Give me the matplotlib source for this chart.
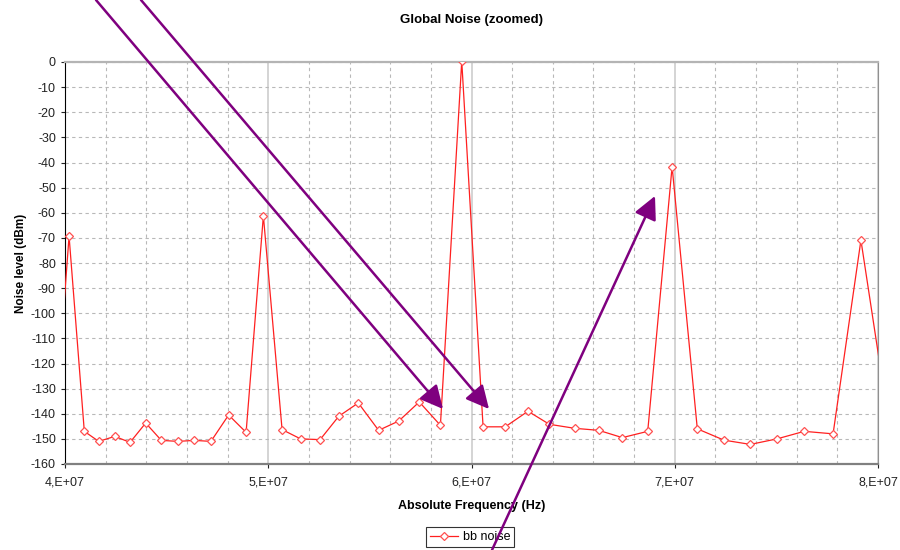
import matplotlib.pyplot as plt
from matplotlib.patches import FancyArrowPatch
from matplotlib.ticker import MultipleLocator, FuncFormatter

plt.rcParams['font.family'] = ['Liberation Sans', 'DejaVu Sans']
plt.rcParams['axes.unicode_minus'] = False

# frequency (Hz) and noise level (dBm)
freq = [3.951e7, 4.020e7, 4.095e7, 4.166e7, 4.245e7, 4.320e7, 4.397e7, 4.474e7,
        4.556e7, 4.636e7, 4.718e7, 4.805e7, 4.891e7, 4.976e7, 5.068e7, 5.159e7,
        5.255e7, 5.347e7, 5.443e7, 5.543e7, 5.642e7, 5.743e7, 5.847e7, 5.952e7,
        6.057e7, 6.166e7, 6.278e7, 6.383e7, 6.508e7, 6.626e7, 6.742e7, 6.867e7,
        6.987e7, 7.111e7, 7.242e7, 7.372e7, 7.503e7, 7.637e7, 7.779e7, 7.916e7,
        8.050e7]
noise = [-145, -69.3, -147, -151, -149, -151.4, -143.7, -150.6,
         -151, -150.6, -151, -140.5, -147.4, -61.2, -146.3, -150,
         -150.3, -141, -135.7, -146.6, -142.9, -135.3, -144.6, 0.3,
         -145.2, -145.2, -139, -144.2, -145.8, -146.6, -149.5, -147,
         -41.6, -146, -150.5, -152.2, -150, -147, -148, -70.9,
         -142]

fig = plt.figure(figsize=(9, 5.5), dpi=100)
ax = fig.add_axes([65 / 900, 86 / 550, 813 / 900, 402 / 550])

ax.plot(freq, noise, color='#ff2020', lw=0.9, marker='D', markersize=4.5,
        markerfacecolor='white', markeredgecolor='#ff5050', markeredgewidth=0.9,
        label='bb noise', zorder=3)

ax.set_xlim(4e7, 8e7)
ax.set_ylim(-160, 0)
ax.xaxis.set_major_locator(MultipleLocator(1e7))
ax.xaxis.set_minor_locator(MultipleLocator(2e6))
ax.yaxis.set_major_locator(MultipleLocator(10))
ax.xaxis.set_major_formatter(FuncFormatter(lambda v, p: '%d,E+07' % round(v / 1e7)))

ax.grid(which='minor', axis='x', color='#b8b8b8', ls=(0, (3, 3)), lw=0.8)
ax.grid(which='major', axis='y', color='#b8b8b8', ls=(0, (3, 3)), lw=0.8)
ax.grid(which='major', axis='x', color='#d4d4d4', ls='-', lw=1.4)
ax.set_axisbelow(True)

ax.tick_params(axis='both', labelsize=9, colors='#222222', length=3, width=0.8)
ax.tick_params(axis='x', which='minor', length=0)
ax.tick_params(axis='x', pad=6)

ax.spines['top'].set_color('#b4b4b4')
ax.spines['top'].set_linewidth(1.6)
ax.spines['right'].set_color('#909090')
ax.spines['left'].set_color('black')
ax.spines['bottom'].set_color('#808080')
ax.spines['bottom'].set_linewidth(1.6)

ax.set_title('Global Noise (zoomed)', fontsize=9.5, fontweight='bold', pad=28)
ax.set_xlabel('Absolute Frequency (Hz)', fontsize=9, fontweight='bold', labelpad=8)
ax.set_ylabel('Noise level (dBm)', fontsize=8.5, fontweight='bold', labelpad=3)

leg = fig.legend(loc='center', bbox_to_anchor=(470 / 900, 1 - 537 / 550), fontsize=9,
                 frameon=True, fancybox=False, edgecolor='black', handlelength=2.2,
                 borderpad=0.3, handletextpad=0.4)
leg.get_frame().set_linewidth(0.8)

# purple annotation arrows (pixel coordinates, top-left origin)
arrows = [((96, 0), (443, 409)), ((141, 0), (489, 409)), ((492, 550), (655, 196))]
for (x0, y0), (x1, y1) in arrows:
    arr = FancyArrowPatch((x0 / 900, 1 - y0 / 550), (x1 / 900, 1 - y1 / 550),
                          transform=fig.transFigure, arrowstyle='-|>,head_length=1.0,head_width=0.5',
                          mutation_scale=14, color='#7f007f', lw=1.8, shrinkA=0, shrinkB=0,
                          zorder=10)
    fig.patches.append(arr)

fig.savefig('out.png', dpi=100)
